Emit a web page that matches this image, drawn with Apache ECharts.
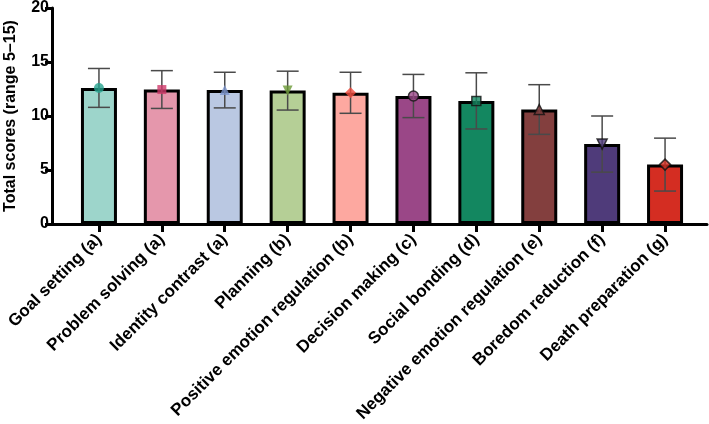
<!DOCTYPE html>
<html>
<head>
<meta charset="utf-8">
<script src="https://cdn.jsdelivr.net/npm/echarts@6/dist/echarts.min.js"></script>
<style>
  html, body { margin: 0; padding: 0; background: #fff; }
  #chart { width: 709px; height: 424px; }
</style>
</head>
<body>
<div id="chart"></div>
<script>
// strategy categories with group letters
var categories = [
  'Goal setting (a)', 'Problem solving (a)', 'Identity contrast (a)', 'Planning (b)',
  'Positive emotion regulation (b)', 'Decision making (c)', 'Social bonding (d)',
  'Negative emotion regulation (e)', 'Boredom reduction (f)', 'Death preparation (g)'
];
var means = [12.6, 12.45, 12.4, 12.35, 12.15, 11.85, 11.4, 10.6, 7.4, 5.5];
var sds = [1.8, 1.75, 1.65, 1.8, 1.9, 2.0, 2.6, 2.3, 2.6, 2.45];
var yTicks = [0, 5, 10, 15, 20];

var barColors = ['#9dd5cb', '#e597ac', '#bac8e2', '#b5cf96', '#fda8a0',
                 '#9a4787', '#138760', '#833f3e', '#4f3b7a', '#d42d22'];
var markerColors = ['#26a38f', '#d03a6a', '#7b93cc', '#6c9a36', '#f04a3c',
                    '#9a4787', '#138760', '#833f3e', '#4f3b7a', '#d42d22'];
var markerShapes = ['circle', 'rect', 'triangle', 'path://M0,0 L10,0 L5,9 Z', 'diamond',
                    'circle', 'rect', 'triangle', 'path://M0,0 L10,0 L5,9 Z', 'diamond'];

var font = "'Liberation Sans', Arial, sans-serif";

var chart = echarts.init(document.getElementById('chart'));

var errData = means.map(function (m, i) { return [i, m - sds[i], m + sds[i]]; });
var markerData = means.map(function (m, i) {
  var outlined = i >= 5;
  return {
    value: [i, m],
    symbol: markerShapes[i],
    symbolSize: i == 1 || i == 6 ? 9 : (i == 4 || i == 9 ? 11 : 10),
    itemStyle: {
      color: markerColors[i],
      borderColor: outlined ? '#111' : markerColors[i],
      borderWidth: outlined ? 1.5 : 0
    }
  };
});

chart.setOption({
  animation: false,
  grid: [
    { left: 52, right: 2, top: 8, bottom: 200, outerBoundsMode: 'none', containLabel: false },
    { left: 67.5, right: 12.5, top: 8, bottom: 200, outerBoundsMode: 'none', containLabel: false }
  ],
  xAxis: [
    {
      gridIndex: 0, type: 'value', min: 0, max: 1,
      axisLine: { show: true, lineStyle: { color: '#000', width: 3 } },
      axisTick: { show: false }, axisLabel: { show: false }, splitLine: { show: false }
    },
    {
      gridIndex: 1, type: 'category', data: categories,
      axisLine: { show: false },
      axisTick: { show: true, length: 8, alignWithLabel: true, lineStyle: { color: '#000', width: 3 } },
      axisLabel: {
        rotate: 45, interval: 0, margin: 13,
        color: '#000', fontWeight: 'bold', fontSize: 17, fontFamily: font
      }
    }
  ],
  yAxis: [
    {
      gridIndex: 0, type: 'value', min: 0, max: 20, interval: 5,
      name: 'Total scores (range 5\u201315)', nameLocation: 'middle', nameGap: 33,
      nameTextStyle: { color: '#000', fontWeight: 'bold', fontSize: 16, fontFamily: font },
      axisLine: { show: true, lineStyle: { color: '#000', width: 3 } },
      axisTick: { show: true, length: 7, lineStyle: { color: '#000', width: 3 } },
      axisLabel: {
        color: '#000', fontWeight: 'bold', fontSize: 16, fontFamily: font, margin: 3,
        formatter: function (v) { return yTicks.indexOf(v) >= 0 ? String(v) : ''; }
      },
      splitLine: { show: false }
    },
    {
      gridIndex: 1, type: 'value', min: 0, max: 20, show: false
    }
  ],
  series: [
    {
      type: 'bar', xAxisIndex: 1, yAxisIndex: 1, barWidth: 36,
      data: means.map(function (m, i) {
        return { value: m, itemStyle: { color: barColors[i] } };
      }),
      itemStyle: { borderColor: '#000', borderWidth: 3 },
      z: 2
    },
    {
      type: 'custom', xAxisIndex: 1, yAxisIndex: 1, data: errData, z: 3,
      renderItem: function (params, api) {
        var x = api.value(0);
        var lo = api.coord([x, api.value(1)]);
        var hi = api.coord([x, api.value(2)]);
        var cap = 11;
        var style = { stroke: '#4a4a4a', lineWidth: 1.5 };
        return {
          type: 'group',
          children: [
            { type: 'line', shape: { x1: hi[0], y1: hi[1], x2: lo[0], y2: lo[1] }, style: style },
            { type: 'line', shape: { x1: hi[0] - cap, y1: hi[1], x2: hi[0] + cap, y2: hi[1] }, style: style },
            { type: 'line', shape: { x1: lo[0] - cap, y1: lo[1], x2: lo[0] + cap, y2: lo[1] }, style: style }
          ]
        };
      }
    },
    {
      type: 'scatter', xAxisIndex: 1, yAxisIndex: 1, data: markerData, z: 4
    }
  ]
});
</script>
</body>
</html>
